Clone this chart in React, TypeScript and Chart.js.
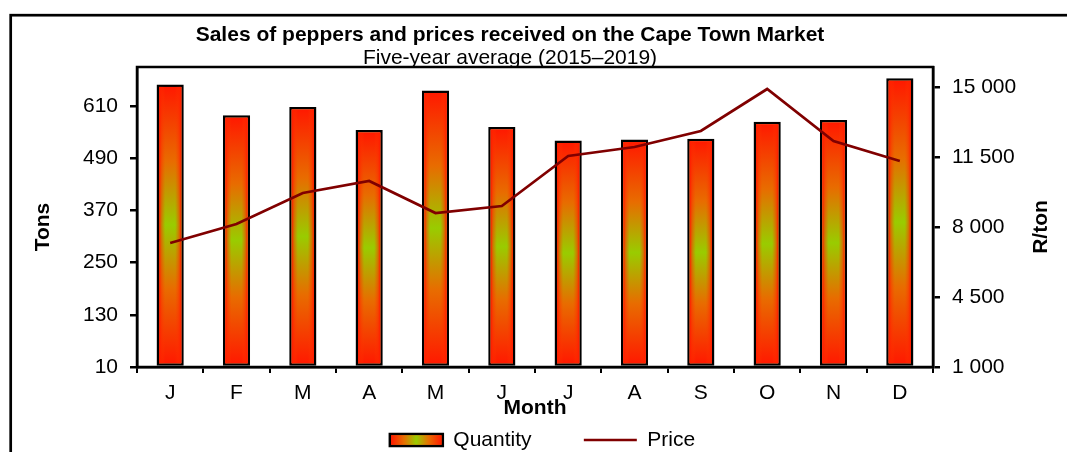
import { useEffect, useRef } from 'react';
import { Chart, registerables } from 'chart.js';

Chart.register(...registerables);

const MONTHS = ['J', 'F', 'M', 'A', 'M', 'J', 'J', 'A', 'S', 'O', 'N', 'D'];
const QUANTITY = [660, 589, 608, 555, 646, 562, 531, 533, 535, 574, 578, 674];
const PRICE = [7200, 8150, 9700, 10300, 8700, 9050, 11550, 12000, 12800, 14900, 12300, 11300];
const TONS_TICKS = [10, 130, 250, 370, 490, 610];
const PRICE_TICKS = [1000, 4500, 8000, 11500, 15000];

const TITLE = 'Sales of peppers and prices received on the Cape Town Market';
const SUBTITLE = 'Five-year average (2015–2019)';
const X_TITLE = 'Month';
const Y_TITLE = 'Tons';
const Y2_TITLE = 'R/ton';

const FONT = "'Liberation Sans', Arial, Helvetica, sans-serif";
const FS = 21;
const EDGE = '#FF1A00';
const MID = '#E86C00';
const CENTER = '#99CC00';
const LINE_COLOR = '#800000';
const LEGEND_PAD = 52.3;
const LEGEND_CENTER_Y = 440;

const fmtSpace = (v: number) => String(v).replace(/\B(?=(\d{3})+(?!\d))/g, ' ');

function barGradient(ctx: CanvasRenderingContext2D, l: number, t: number, r: number, b: number) {
  if (r <= l || b <= t) return;
  const cx = (l + r) / 2;
  const gv = ctx.createLinearGradient(0, t, 0, b);
  gv.addColorStop(0, EDGE);
  gv.addColorStop(0.27, MID);
  gv.addColorStop(0.5, CENTER);
  gv.addColorStop(0.73, MID);
  gv.addColorStop(1, EDGE);
  ctx.fillStyle = gv;
  ctx.fillRect(l, t, r - l, b - t);
  const stops: [number, string][] = [
    [0, 'rgba(255,26,0,1)'],
    [0.2, 'rgba(255,40,0,0.5)'],
    [0.55, 'rgba(255,60,0,0)'],
  ];
  const gl = ctx.createLinearGradient(l, 0, cx, 0);
  stops.forEach(([o, c]) => gl.addColorStop(o, c));
  ctx.fillStyle = gl;
  ctx.fillRect(l, t, cx - l, b - t);
  const gr = ctx.createLinearGradient(r, 0, cx, 0);
  stops.forEach(([o, c]) => gr.addColorStop(o, c));
  ctx.fillStyle = gr;
  ctx.fillRect(cx, t, r - cx, b - t);
}

const decorPlugin = {
  id: 'decor',
  afterLayout(chart: any) {
    for (const box of chart.boxes) {
      if (box && box.options && (box.options.text === TITLE || box.options.text === SUBTITLE)) {
        box.left = 0;
        box.right = 1020;
      }
    }
    const lg = chart.legend;
    if (lg) {
      lg.top = LEGEND_CENTER_Y - LEGEND_PAD - FS / 2;
      lg.bottom = chart.height;
      lg.height = lg.bottom - lg.top;
    }
  },
  beforeDraw(chart: any) {
    const ctx = chart.ctx;
    ctx.save();
    ctx.strokeStyle = '#000';
    ctx.lineWidth = 2.7;
    ctx.strokeRect(10.7, 15.2, 3000, 3000);
    ctx.restore();
  },
  beforeDatasetsDraw(chart: any) {
    const { ctx, chartArea } = chart;
    ctx.save();
    ctx.strokeStyle = '#000';
    ctx.lineWidth = 2.5;
    ctx.strokeRect(chartArea.left, chartArea.top, chartArea.right - chartArea.left, chartArea.bottom - chartArea.top);
    ctx.restore();
  },
  afterDatasetDraw(chart: any, args: any) {
    if (args.index !== 0) return;
    const ctx = chart.ctx;
    const bw = 2.5;
    ctx.save();
    for (const el of args.meta.data) {
      const { x, y, base, width } = el.getProps(['x', 'y', 'base', 'width'], true);
      barGradient(ctx, x - width / 2 + bw, Math.min(y, base) + bw, x + width / 2 - bw, Math.max(y, base) - bw);
    }
    ctx.restore();
  },
  afterDraw(chart: any) {
    const ctx = chart.ctx;
    const lg = chart.legend;
    if (lg && lg.legendHitBoxes && lg.legendItems) {
      const idx = lg.legendItems.findIndex((it: any) => it.datasetIndex === 0);
      const hb = lg.legendHitBoxes[idx];
      if (hb) {
        const w = 53;
        const h = 12;
        const cy = hb.top + FS / 2;
        const l = hb.left + 1.25;
        const r = hb.left + w - 1.25;
        const t = cy - h / 2 + 1.25;
        const b = cy + h / 2 - 1.25;
        const g = ctx.createLinearGradient(l, 0, r, 0);
        g.addColorStop(0, EDGE);
        g.addColorStop(0.25, MID);
        g.addColorStop(0.5, CENTER);
        g.addColorStop(0.75, MID);
        g.addColorStop(1, EDGE);
        ctx.save();
        ctx.fillStyle = g;
        ctx.fillRect(l, t, r - l, b - t);
        ctx.restore();
      }
    }
    const { chartArea } = chart;
    const midY = 227;
    const drawV = (text: string, x: number) => {
      ctx.save();
      ctx.fillStyle = '#000';
      ctx.font = `bold ${FS}px ${FONT}`;
      ctx.textAlign = 'center';
      ctx.textBaseline = 'middle';
      ctx.translate(x, midY);
      ctx.rotate(-Math.PI / 2);
      ctx.fillText(text, 0, 0);
      ctx.restore();
    };
    drawV(Y_TITLE, chartArea.left - 93.5);
    drawV(Y2_TITLE, chartArea.right + 108.7);
  },
};

export default function App() {
  const ref = useRef<HTMLCanvasElement | null>(null);

  useEffect(() => {
    if (!ref.current) return;
    Chart.defaults.font.family = FONT;
    Chart.defaults.color = '#000';
    const chart = new Chart(ref.current, {
      type: 'bar',
      data: {
        labels: MONTHS,
        datasets: [
          {
            type: 'bar',
            label: 'Quantity',
            data: QUANTITY,
            yAxisID: 'y',
            backgroundColor: '#F05A00',
            borderColor: '#000',
            borderWidth: 2.5,
            borderSkipped: false,
            barPercentage: 0.41,
            categoryPercentage: 1,
            base: 10,
            order: 1,
            pointStyle: 'rect',
          } as any,
          {
            type: 'line',
            label: 'Price',
            data: PRICE,
            yAxisID: 'y2',
            borderColor: LINE_COLOR,
            backgroundColor: LINE_COLOR,
            borderWidth: 2.7,
            pointRadius: 0,
            tension: 0,
            fill: false,
            order: 0,
            pointStyle: 'line',
          } as any,
        ],
      },
      options: {
        responsive: false,
        animation: false,
        events: [],
        layout: { padding: { left: 18, right: 0, top: 0, bottom: 0 } },
        plugins: {
          title: {
            display: true,
            text: TITLE,
            color: '#000',
            font: { size: FS, weight: 'bold', family: FONT },
            padding: { top: 22.4, bottom: 0 },
          },
          subtitle: {
            display: true,
            text: SUBTITLE,
            color: '#000',
            font: { size: FS, weight: 'normal', family: FONT },
            padding: { top: -1.7, bottom: -4.1 },
          },
          legend: {
            display: true,
            position: 'bottom',
            maxHeight: 30,
            labels: {
              usePointStyle: true,
              pointStyleWidth: 53,
              boxHeight: 12,
              padding: LEGEND_PAD,
              color: '#000',
              font: { size: FS, family: FONT },
              sort: (a: any, b: any) => a.datasetIndex - b.datasetIndex,
            },
          },
          tooltip: { enabled: false },
        },
        scales: {
          x: {
            type: 'category',
            offset: true,
            grid: {
              display: true,
              offset: true,
              drawOnChartArea: false,
              drawTicks: true,
              tickLength: 6,
              color: '#000',
              lineWidth: 2,
            },
            border: { display: true, color: '#000', width: 2.5 },
            ticks: {
              color: '#000',
              font: { size: FS, family: FONT },
              padding: 8,
              maxRotation: 0,
              autoSkip: false,
            },
            title: {
              display: true,
              text: X_TITLE,
              color: '#000',
              font: { size: FS, weight: 'bold', family: FONT },
              padding: { top: 0, bottom: 1.4 },
            },
            afterFit: (s: any) => {
              s.height = 55;
            },
          },
          y: {
            type: 'linear',
            position: 'left',
            min: 10,
            max: 700,
            afterBuildTicks: (s: any) => {
              s.ticks = TONS_TICKS.map((v) => ({ value: v }));
            },
            grid: {
              display: true,
              drawOnChartArea: false,
              drawTicks: true,
              tickLength: 7,
              color: '#000',
              lineWidth: 2.5,
            },
            border: { display: true, color: '#000', width: 2.5 },
            ticks: {
              color: '#000',
              font: { size: FS, family: FONT },
              padding: 12,
            },
            afterFit: (s: any) => {
              s.width = 119;
            },
          },
          y2: {
            type: 'linear',
            position: 'right',
            min: 1000,
            max: 16000,
            afterBuildTicks: (s: any) => {
              s.ticks = PRICE_TICKS.map((v) => ({ value: v }));
            },
            grid: {
              display: true,
              drawOnChartArea: false,
              drawTicks: true,
              tickLength: 7,
              color: '#000',
              lineWidth: 2.5,
            },
            border: { display: true, color: '#000', width: 2.5 },
            ticks: {
              color: '#000',
              font: { size: FS, family: FONT },
              padding: 12,
              callback: (v: any) => fmtSpace(Number(v)),
            },
            afterFit: (s: any) => {
              s.width = 134;
            },
          },
        },
      } as any,
      plugins: [decorPlugin],
    });
    return () => chart.destroy();
  }, []);

  return (
    <div
      style={{
        position: 'fixed',
        left: 0,
        top: 0,
        width: 1067,
        height: 452,
        overflow: 'hidden',
        background: '#fff',
      }}
    >
      <canvas ref={ref} width={1067} height={452} style={{ display: 'block' }} />
    </div>
  );
}
